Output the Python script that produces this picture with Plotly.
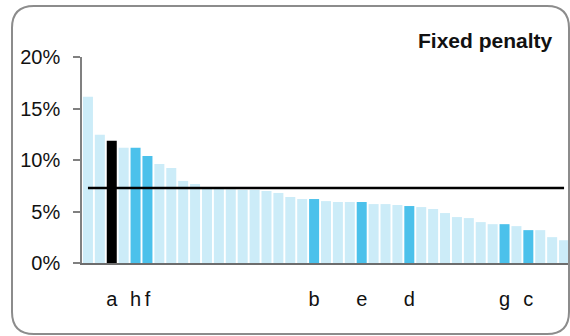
import plotly.graph_objects as go

# ---- data ----
values = [16.15, 12.45, 11.87, 11.18, 11.18, 10.40, 9.62, 9.23, 7.97, 7.67,
          7.20, 7.20, 7.15, 7.10, 7.10, 6.99, 6.80, 6.41, 6.21, 6.21,
          6.01, 5.92, 5.92, 5.92, 5.72, 5.72, 5.63, 5.53, 5.43, 5.24,
          4.85, 4.46, 4.36, 3.97, 3.77, 3.77, 3.58, 3.19, 3.19, 2.51, 2.21]
labels = ["", "", "a", "", "h", "f", "", "", "", "",
          "", "", "", "", "", "", "", "", "", "b",
          "", "", "", "e", "", "", "", "d", "", "",
          "", "", "", "", "", "g", "", "c", "", "", ""]
benchmark = 7.28
title_text = "Fixed penalty"
y_ticks = [0, 5, 10, 15, 20]
y_ticktext = ["0%", "5%", "10%", "15%", "20%"]

# ---- styling ----
LIGHT = "#CCECF8"
BLUE = "#4BC1EB"
BLACK = "#000000"
FONT = "Liberation Sans, Arial, sans-serif"

W, H = 570, 336
ML, MR, MT, MB = 82, 0, 57, 73
PW, PH = W - ML - MR, H - MT - MB

def px_x(x):
    return (x - ML) / PW

def px_y(y):
    return (H - MB - y) / PH

n = len(values)
xs = list(range(n))
colors = [BLACK if l == "a" else (BLUE if l else LIGHT) for l in labels]

fig = go.Figure()
fig.add_trace(go.Bar(x=xs, y=values, marker=dict(color=colors, line=dict(width=0)),
                     showlegend=False, hoverinfo="y"))
fig.add_trace(go.Scatter(x=xs, y=[benchmark] * n, mode="lines",
                         line=dict(color="#000000", width=2.5),
                         showlegend=False, hoverinfo="y"))

tickvals = [i for i, l in enumerate(labels) if l]
ticktext = [l for l in labels if l]

# rounded border in pixel coordinates -> paper
L, R, T, B, rad = 12, 569, 6, 334, 22
def P(x, y):
    return f"{px_x(x):.5f},{px_y(y):.5f}"
path = (f"M {P(L+rad, T)} L {P(R-rad, T)} Q {P(R, T)} {P(R, T+rad)} "
        f"L {P(R, B-rad)} Q {P(R, B)} {P(R-rad, B)} "
        f"L {P(L+rad, B)} Q {P(L, B)} {P(L, B-rad)} "
        f"L {P(L, T+rad)} Q {P(L, T)} {P(L+rad, T)} Z")

fig.update_layout(
    width=W, height=H,
    margin=dict(l=ML, r=MR, t=MT, b=MB, pad=0),
    paper_bgcolor="white", plot_bgcolor="white",
    bargap=0.16,
    font=dict(family=FONT, size=20, color="#111111"),
    xaxis=dict(range=[-0.5, n - 0.5], tickmode="array", tickvals=tickvals,
               ticktext=ticktext, showgrid=False, zeroline=False,
               showline=True, linecolor="rgba(60,60,60,0.75)", linewidth=1.5,
               ticks="", ticklabelstandoff=17,
               tickfont=dict(family=FONT, size=20, color="#111111")),
    yaxis=dict(range=[0, 20], tickmode="array", tickvals=y_ticks,
               ticktext=y_ticktext,
               showgrid=False, zeroline=False, showline=True,
               linecolor="#808080", linewidth=1.5, ticks="outside",
               ticklen=7, tickcolor="#808080", tickwidth=1.5,
               ticklabelstandoff=9,
               tickfont=dict(family=FONT, size=20, color="#111111")),
    shapes=[dict(type="path", xref="paper", yref="paper", path=path,
                 line=dict(color="#8C8C8C", width=2), fillcolor="rgba(0,0,0,0)",
                 layer="above")],
    annotations=[dict(text=f"<b>{title_text}</b>", xref="paper", yref="paper",
                      x=px_x(555), y=px_y(40), xanchor="right", yanchor="middle",
                      showarrow=False,
                      font=dict(family=FONT, size=21, color="#111111"))],
)

fig.write_html("out.html", config={"displayModeBar": False},
               post_script="document.body.style.margin='0';")
